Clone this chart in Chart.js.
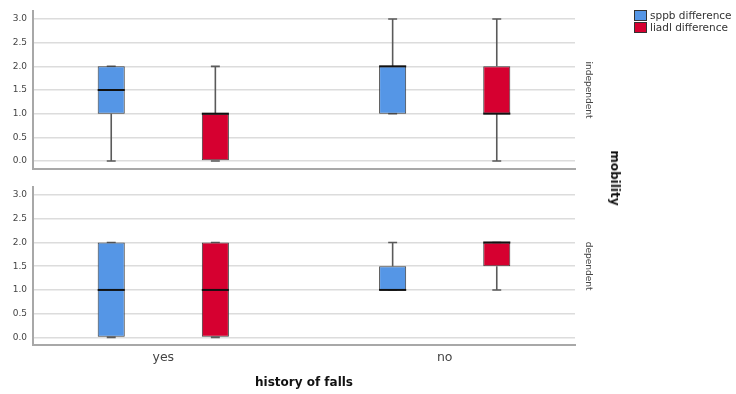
<!DOCTYPE html>
<html>
<head>
<meta charset="utf-8">
<script src="https://cdn.jsdelivr.net/npm/chart.js@4"></script>
<style>
  body { margin: 0; background: #fff; }
  #wrap { position: relative; width: 736px; height: 394px; font-family: "DejaVu Sans", sans-serif; }
  .panel { position: absolute; left: 0; width: 736px; }
  #legend { position: absolute; left: 634px; top: 9px; font-size: 10.5px; color: #333; white-space: nowrap; }
  .row { display: flex; align-items: center; height: 12px; }
  .sw { width: 13px; height: 11px; border: 1px solid #333; margin-right: 3px; box-sizing: border-box; }
  #mobility { position: absolute; left: 615px; top: 178px; transform: translate(-50%, -50%) rotate(90deg);
              font-size: 12px; font-weight: bold; color: #111; white-space: nowrap; }
</style>
</head>
<body>
<div id="wrap">
  <div class="panel" style="top:0;height:180px"><canvas id="topChart"></canvas></div>
  <div class="panel" style="top:176px;height:218px"><canvas id="bottomChart"></canvas></div>
  <div id="legend"></div>
  <div id="mobility">mobility</div>
</div>
<script>
// categories and series
const groups = ["yes", "no"];
const seriesNames = ["sppb difference", "liadl difference"];
const seriesColors = ["#5596E6", "#D60030"];
const yTicks = [0, 0.5, 1, 1.5, 2, 2.5, 3];

// five-number summaries: [min, q1, median, q3, max] for yes, no
const indepSppb = [[0, 1, 1.5, 2, 2], [1, 1, 2, 2, 3]];
const indepLiadl = [[0, 0, 1, 1, 2], [0, 1, 1, 2, 3]];
const depSppb = [[0, 0, 1, 2, 2], [1, 1, 1, 1.5, 2]];
const depLiadl = [[0, 0, 1, 2, 2], [1, 1.5, 2, 2, 2]];

// legend
const legendEl = document.getElementById("legend");
seriesNames.forEach((name, i) => {
  legendEl.innerHTML += `<div class="row"><div class="sw" style="background:${seriesColors[i]}"></div>${name}</div>`;
});

// whiskers, medians and the panel label
const boxPlugin = {
  id: "boxes",
  beforeDatasetsDraw(chart) {
    const ctx = chart.ctx;
    const y = chart.scales.y;
    chart.data.datasets.forEach((ds, di) => {
      chart.getDatasetMeta(di).data.forEach((bar, i) => {
        const s = ds.summary[i];
        const cap = bar.width * 0.33;
        ctx.save();
        ctx.strokeStyle = "#5a5a5a";
        ctx.lineWidth = 1.6;
        ctx.beginPath();
        ctx.moveTo(bar.x, y.getPixelForValue(s[0]));
        ctx.lineTo(bar.x, y.getPixelForValue(s[1]));
        ctx.moveTo(bar.x, y.getPixelForValue(s[3]));
        ctx.lineTo(bar.x, y.getPixelForValue(s[4]));
        ctx.moveTo(bar.x - cap / 2, y.getPixelForValue(s[0]));
        ctx.lineTo(bar.x + cap / 2, y.getPixelForValue(s[0]));
        ctx.moveTo(bar.x - cap / 2, y.getPixelForValue(s[4]));
        ctx.lineTo(bar.x + cap / 2, y.getPixelForValue(s[4]));
        ctx.stroke();
        ctx.restore();
      });
    });
  },
  afterDatasetsDraw(chart) {
    const ctx = chart.ctx;
    const y = chart.scales.y;
    chart.data.datasets.forEach((ds, di) => {
      chart.getDatasetMeta(di).data.forEach((bar, i) => {
        const py = y.getPixelForValue(ds.summary[i][2]);
        ctx.save();
        ctx.strokeStyle = "#111";
        ctx.lineWidth = 2;
        ctx.beginPath();
        ctx.moveTo(bar.x - bar.width / 2, py);
        ctx.lineTo(bar.x + bar.width / 2, py);
        ctx.stroke();
        ctx.restore();
      });
    });
    const area = chart.chartArea;
    const text = chart.options.plugins.boxes.label;
    ctx.save();
    ctx.translate(area.right + 13, (area.top + area.bottom) / 2);
    ctx.rotate(Math.PI / 2);
    ctx.font = "9px 'DejaVu Sans', sans-serif";
    ctx.fillStyle = "#444";
    ctx.textAlign = "center";
    ctx.textBaseline = "middle";
    ctx.fillText(text, 0, 0);
    ctx.restore();
  }
};

function makePanel(canvasId, sppb, liadl, label, showX) {
  const tickFont = { family: "'DejaVu Sans', sans-serif", size: 9 };
  return new Chart(document.getElementById(canvasId), {
    type: "bar",
    data: {
      datasets: [sppb, liadl].map((series, k) => ({
        label: seriesNames[k],
        data: series.map((s, i) => ({ x: i, y: [s[1], s[3]] })),
        summary: series,
        backgroundColor: seriesColors[k],
        borderColor: "#3c3c3c",
        borderWidth: 1,
        borderSkipped: false
      }))
    },
    options: {
      responsive: true,
      maintainAspectRatio: false,
      animation: false,
      layout: { padding: { top: showX ? 4 : 9, right: 161, bottom: showX ? 0 : 6, left: 0 } },
      datasets: { bar: { categoryPercentage: 0.74, barPercentage: 0.26 } },
      plugins: {
        legend: { display: false },
        tooltip: { enabled: false },
        boxes: { label: label }
      },
      scales: {
        x: {
          type: "linear",
          offset: false,
          min: -0.463,
          max: 1.463,
          afterBuildTicks: s => { s.ticks = groups.map((g, i) => ({ value: i })); },
          afterFit: s => { s.height = showX ? 49 : 0; },
          grid: { display: false, drawTicks: false },
          border: { display: true, color: "#a8a8a8", width: 2 },
          ticks: {
            display: showX,
            autoSkip: false,
            maxRotation: 0,
            padding: 5,
            color: "#444",
            font: { family: "'DejaVu Sans', sans-serif", size: 12.5 },
            callback: v => groups[v]
          },
          title: {
            display: showX,
            text: "history of falls",
            color: "#111",
            font: { family: "'DejaVu Sans', sans-serif", size: 12, weight: "bold" },
            padding: { top: 0, bottom: 4 }
          }
        },
        y: {
          min: -0.16,
          max: 3.16,
          afterBuildTicks: s => { s.ticks = yTicks.map(v => ({ value: v })); },
          afterFit: s => { s.width = 33; },
          grid: { color: "#dcdcdc", lineWidth: 1.5, drawTicks: false },
          border: { display: true, color: "#a8a8a8", width: 2 },
          ticks: { padding: 6, color: "#444", font: tickFont, callback: v => v.toFixed(1) }
        }
      }
    },
    plugins: [boxPlugin]
  });
}

makePanel("topChart", indepSppb, indepLiadl, "independent", false);
makePanel("bottomChart", depSppb, depLiadl, "dependent", true);
</script>
</body>
</html>
